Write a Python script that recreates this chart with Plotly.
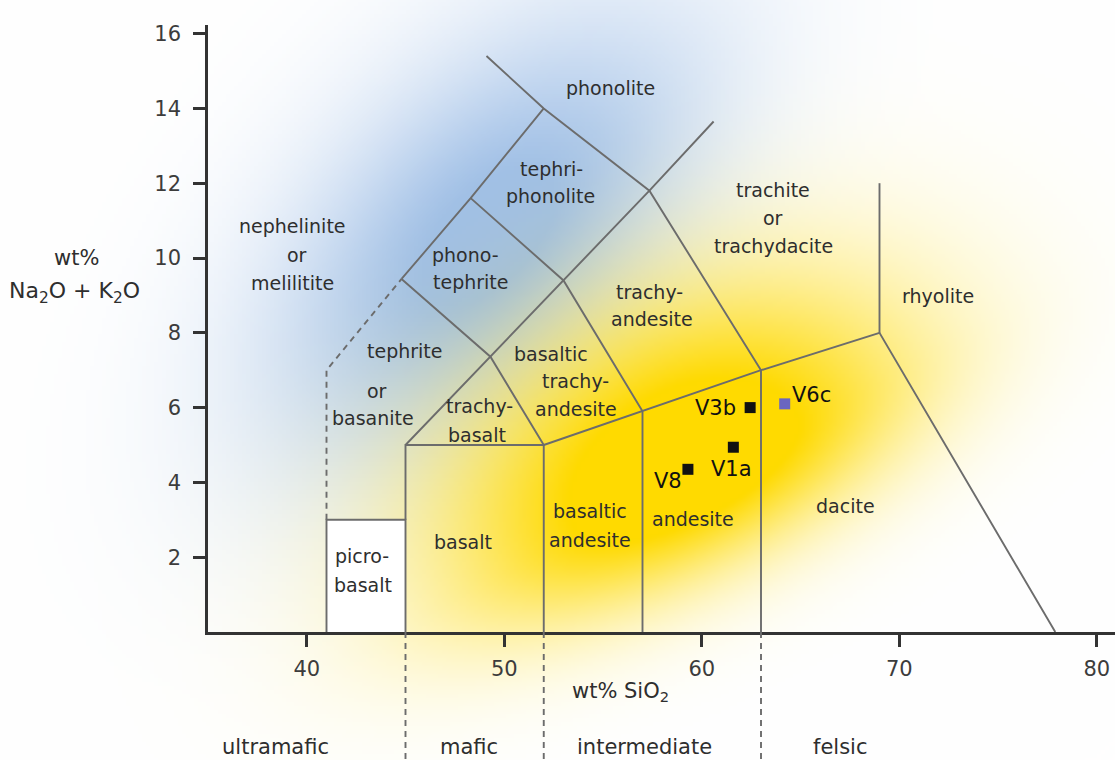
import base64, zlib, struct
import numpy as np
import plotly.graph_objects as go

# ---------------- data ----------------
# TAS field boundaries (SiO2 wt%, Na2O+K2O wt%)
picrobasalt_x = [41, 41, 45, 45]
picrobasalt_y = [0, 3, 3, 0]
basalt_x = [45, 45, 52, 52]
basalt_y = [3, 5, 5, 0]
lower_series_x = [52, 57, 63, 69, 77.9]
lower_series_y = [5, 5.9, 7, 8, 0]
andesite_left_x = [57, 57]
andesite_left_y = [0, 5.9]
dacite_left_x = [63, 63]
dacite_left_y = [0, 7]
rhyolite_x = [69, 69]
rhyolite_y = [8, 12]
diag1_x = [44.8, 49.3, 52]          # tephrite / trachybasalt
diag1_y = [9.44, 7.36, 5]
diag2_x = [48.3, 53, 57]            # phonotephrite / BTA
diag2_y = [11.6, 9.4, 5.9]
diag3_x = [49.1, 52, 57.35, 63]     # phonolite / tephriphonolite / TA
diag3_y = [15.4, 14.0, 11.8, 7]
up1_x = [45, 49.3, 53, 57.35, 60.6]  # trachybasalt -> trachyte
up1_y = [5, 7.36, 9.4, 11.8, 13.65]
up2_x = [44.8, 48.3, 52]             # tephrite -> phonolite
up2_y = [9.44, 11.6, 14.0]
dashed_x = [41, 41, 44.8]
dashed_y = [3, 7, 9.44]

solid_lines = [(basalt_x, basalt_y), (lower_series_x, lower_series_y),
               (andesite_left_x, andesite_left_y), (dacite_left_x, dacite_left_y),
               (rhyolite_x, rhyolite_y), (diag1_x, diag1_y), (diag2_x, diag2_y),
               (diag3_x, diag3_y), (up1_x, up1_y), (up2_x, up2_y)]

# samples
sample_names = ["V8", "V1a", "V3b", "V6c"]
sample_sio2 = [59.3, 61.6, 62.45, 64.2]
sample_alk = [4.35, 4.94, 6.0, 6.1]
sample_colors = ["#111111", "#111111", "#111111", "#6a66c0"]

# classification by silica
class_bounds = [45, 52, 63]
class_names = ["ultramafic", "mafic", "intermediate", "felsic"]
class_centers = [38.4, 48.2, 57.1, 67.0]

x_ticks = [40, 50, 60, 70, 80]
y_ticks = [2, 4, 6, 8, 10, 12, 14, 16]

# region names (single text lines with their centre in data units)
region_labels = [
    ("nephelinite", 39.3, 10.85), ("or", 39.5, 10.09), ("melilitite", 39.3, 9.34),
    ("phonolite", 55.39, 14.55),
    ("tephri-", 52.41, 12.37), ("phonolite", 52.33, 11.65),
    ("phono-", 48.02, 10.09), ("tephrite", 48.27, 9.35),
    ("tephrite", 44.93, 7.51), ("or", 43.54, 6.44), ("basanite", 43.37, 5.73),
    ("trachy-", 48.77, 6.04), ("basalt", 48.6, 5.28),
    ("basaltic", 52.37, 7.42), ("trachy-", 53.63, 6.71), ("andesite", 53.63, 5.97),
    ("trachy-", 57.33, 9.09), ("andesite", 57.5, 8.36),
    ("trachite", 63.61, 11.83), ("or", 63.61, 11.08), ("trachydacite", 63.61, 10.33),
    ("rhyolite", 71.98, 8.98),
    ("basalt", 47.93, 2.40),
    ("picro-", 42.78, 2.03), ("basalt", 42.86, 1.27),
    ("basaltic", 54.34, 3.23), ("andesite", 54.34, 2.47),
    ("andesite", 59.56, 3.01),
    ("dacite", 67.26, 3.36),
]

# ---------------- layout geometry ----------------
W, H = 1115, 760
ML, MR, MT, MB = 208, 0, 25, 128
PW, PH = W - ML - MR, H - MT - MB
XR = [35, 35 + PW / 19.75]
YR = [0, PH / 37.4]

def px2paper(px, py):
    return (px - ML) / PW, (H - MB - py) / PH

# ---------------- background glow (decoration) ----------------
def glow(X, Y, cx, cy, ang, su_p, su_n, sv_p, sv_n):
    a = np.radians(ang)
    mx, my = np.cos(a), -np.sin(a)
    nx, ny = -my, mx
    dx, dy = X - cx, Y - cy
    u = dx * mx + dy * my
    v = dx * nx + dy * ny
    su = np.where(u > 0, su_p, su_n)
    sv = np.where(v > 0, sv_p, sv_n)
    return (u / su) ** 2 + (v / sv) ** 2

step = 4
gx = np.arange(0, W, step) + step / 2
gy = np.arange(0, H, step) + step / 2
X, Y = np.meshgrid(gx, gy)
r2b = glow(X, Y, 490, 240, 45.6, 300, 300, 150, 175)
ab = np.clip(1.1 * np.exp(-1.3 * r2b), 0, 1)[..., None]
r2y = glow(X, Y, 690, 470, 27, 235, 250, 95, 160)
ay = np.clip(1.3 * np.exp(-r2y), 0, 1)[..., None]
blue = np.array([160, 192, 232.0])
yellow = np.array([255, 218, 0.0])
img = 255 * (1 - ab) + blue * ab
img = img * (1 - ay) + yellow * ay
img = np.clip(img, 0, 255).astype(np.uint8)

def png_uri(rgb):
    h, w, _ = rgb.shape
    raw = b"".join(b"\x00" + rgb[i].tobytes() for i in range(h))
    def chunk(tag, data):
        return (struct.pack(">I", len(data)) + tag + data +
                struct.pack(">I", zlib.crc32(tag + data) & 0xFFFFFFFF))
    png = (b"\x89PNG\r\n\x1a\n" +
           chunk(b"IHDR", struct.pack(">IIBBBBB", w, h, 8, 2, 0, 0, 0)) +
           chunk(b"IDAT", zlib.compress(raw, 9)) + chunk(b"IEND", b""))
    return "data:image/png;base64," + base64.b64encode(png).decode()

# ---------------- figure ----------------
LINE = "#6c6c6c"
FONT = "DejaVu Sans"
TXT = "#2e2e2e"
fig = go.Figure()

fig.add_trace(go.Scatter(x=picrobasalt_x, y=picrobasalt_y, mode="lines", fill="toself",
                         fillcolor="white", line=dict(color=LINE, width=1.9),
                         hoverinfo="skip", showlegend=False))
for xs, ys in solid_lines:
    fig.add_trace(go.Scatter(x=xs, y=ys, mode="lines", line=dict(color=LINE, width=1.9),
                             hoverinfo="skip", showlegend=False))
fig.add_trace(go.Scatter(x=dashed_x, y=dashed_y, mode="lines",
                         line=dict(color=LINE, width=1.9, dash="6px,5px"),
                         hoverinfo="skip", showlegend=False))

fig.add_trace(go.Scatter(x=sample_sio2, y=sample_alk, mode="markers", text=sample_names,
                         marker=dict(symbol="square", size=11, color=sample_colors,
                                     line=dict(width=0)),
                         showlegend=False))

annotations = []
for txt, x, y in region_labels:
    annotations.append(dict(x=x, y=y, xref="x", yref="y", text=txt, showarrow=False,
                            font=dict(family=FONT, size=19, color=TXT),
                            xanchor="center", yanchor="middle"))

label_style = {"V8": (-20, -12), "V1a": (-2, -22), "V3b": (-35, 0), "V6c": (27, 9)}
for name, x, y in zip(sample_names, sample_sio2, sample_alk):
    xs, ys = label_style[name]
    annotations.append(dict(x=x, y=y, xref="x", yref="y", text=name, showarrow=False,
                            xshift=xs, yshift=ys,
                            font=dict(family=FONT, size=21, color="#111111"),
                            xanchor="center", yanchor="middle"))

for name, cx in zip(class_names, class_centers):
    annotations.append(dict(x=cx, y=px2paper(0, 747)[1], xref="x", yref="paper", text=name,
                            showarrow=False, font=dict(family=FONT, size=21, color=TXT),
                            xanchor="center", yanchor="middle"))

for txt, (px, py), fs in [("wt%", (76, 258), 21), ("Na<sub>2</sub>O + K<sub>2</sub>O", (74, 292), 22),
                          ("wt% SiO<sub>2</sub>", (620, 692), 21)]:
    xp, yp = px2paper(px, py)
    annotations.append(dict(x=xp, y=yp, xref="paper", yref="paper", text=txt,
                            showarrow=False, font=dict(family=FONT, size=fs, color=TXT),
                            xanchor="center", yanchor="middle"))

shapes = []
for b in class_bounds:
    shapes.append(dict(type="line", xref="x", yref="paper", x0=b, x1=b, y0=0,
                       y1=px2paper(0, H)[1], line=dict(color=LINE, width=1.9, dash="6px,5px"),
                       layer="above"))

x0p, y0p = px2paper(0, 0)
fig.update_layout(
    width=W, height=H, margin=dict(l=ML, r=MR, t=MT, b=MB, autoexpand=False),
    paper_bgcolor="white", plot_bgcolor="rgba(0,0,0,0)",
    images=[dict(source=png_uri(img), xref="paper", yref="paper", x=x0p, y=y0p,
                 sizex=W / PW, sizey=H / PH, xanchor="left", yanchor="top",
                 sizing="stretch", layer="below")],
    annotations=annotations, shapes=shapes,
    xaxis=dict(range=XR, showgrid=False, zeroline=False, showline=True,
               linecolor="#333333", linewidth=2.5, ticks="outside", ticklen=12,
               tickwidth=2.5, tickcolor="#333333", tickvals=x_ticks,
               tickfont=dict(family=FONT, size=21, color="#3c3c3c"),
               ticklabelstandoff=4, fixedrange=True),
    yaxis=dict(range=YR, showgrid=False, zeroline=False, showline=True,
               linecolor="#333333", linewidth=2.5, ticks="outside", ticklen=12,
               tickwidth=2.5, tickcolor="#333333", tickvals=y_ticks,
               tickfont=dict(family=FONT, size=21, color="#3c3c3c"),
               ticklabelstandoff=8, fixedrange=True),
)

fig.write_html("out.html", config={"displayModeBar": False},
               post_script="document.body.style.margin='0px';document.body.style.overflow='hidden';")
